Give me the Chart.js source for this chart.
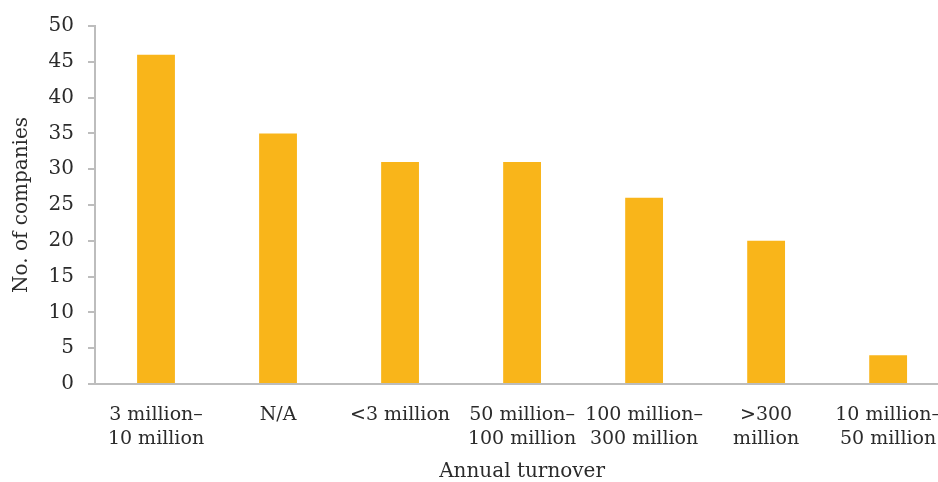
<!DOCTYPE html>
<html>
<head>
<meta charset="utf-8">
<script src="https://cdn.jsdelivr.net/npm/chart.js@4/dist/chart.umd.min.js"></script>
<style>
  html, body { margin: 0; padding: 0; background: #fff; overflow: hidden; }
  #wrap { width: 960px; height: 482px; position: relative; }
</style>
</head>
<body>
<div id="wrap"><canvas id="c" width="960" height="482"></canvas></div>
<script>
// Companies by annual turnover band
const categories = [
  ['3 million\u2013', '10 million'],
  'N/A',
  '<3 million',
  ['50 million\u2013', '100 million'],
  ['100 million\u2013', '300 million'],
  ['>300', 'million'],
  ['10 million\u2013', '50 million']
];
const companies = [46, 35, 31, 31, 26, 20, 4];
const yTicks = [0, 5, 10, 15, 20, 25, 30, 35, 40, 45, 50];

const textColor = '#2b2b2b';
const axisColor = '#bdbdbd';
const serif = '"DejaVu Serif", "Liberation Serif", serif';

new Chart(document.getElementById('c'), {
  type: 'bar',
  data: {
    labels: categories,
    datasets: [{
      data: companies,
      backgroundColor: '#F9B51A',
      barPercentage: 0.31,
      categoryPercentage: 1.0
    }]
  },
  options: {
    responsive: false,
    animation: false,
    layout: { padding: { top: 19, right: 0, left: 0, bottom: 0 } },
    plugins: { legend: { display: false }, tooltip: { enabled: false } },
    scales: {
      x: {
        afterFit: (scale) => { scale.height = 98; },
        grid: { display: false, drawTicks: false },
        border: { color: axisColor, width: 2 },
        ticks: {
          color: textColor,
          font: { family: serif, size: 19, lineHeight: 1.25 },
          padding: 19,
          maxRotation: 0,
          autoSkip: false
        },
        title: {
          display: true,
          text: 'Annual turnover',
          color: textColor,
          font: { family: serif, size: 20 },
          padding: { top: 10, bottom: -2 }
        }
      },
      y: {
        min: 0,
        max: 50,
        afterFit: (scale) => { scale.width = 95; },
        afterBuildTicks: (axis) => { axis.ticks = yTicks.map(v => ({ value: v })); },
        grid: { display: true, drawOnChartArea: false, drawTicks: true, tickLength: 7, color: axisColor, lineWidth: 2 },
        border: { color: axisColor, width: 2 },
        ticks: {
          color: textColor,
          font: { family: serif, size: 20 },
          padding: 14
        },
        title: {
          display: true,
          text: 'No. of companies',
          color: textColor,
          font: { family: serif, size: 20 },
          padding: { top: 10, bottom: 14 }
        }
      }
    }
  }
});
</script>
</body>
</html>
